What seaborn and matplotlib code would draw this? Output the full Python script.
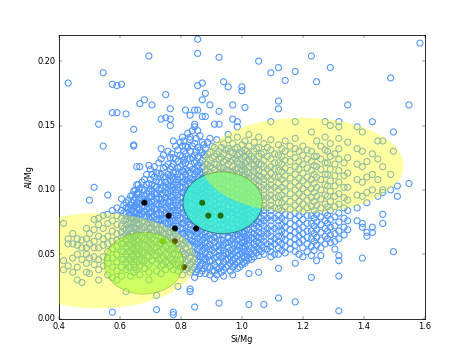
import numpy as np
import pandas as pd
import matplotlib
matplotlib.use('Agg')
import matplotlib.pyplot as plt
import seaborn as sns
from matplotlib.patches import Ellipse

# Si/Mg column positions and the Al/Mg values (x1000) read in each column
col_x = [0.415, 0.43, 0.445, 0.46, 0.475, 0.49, 0.50, 0.515, 0.53, 0.545, 0.56,
         0.575, 0.59, 0.605, 0.62, 0.635, 0.645, 0.655, 0.665, 0.68, 0.695,
         0.705, 0.72, 0.735, 0.75, 0.765, 0.775, 0.79, 0.805, 0.815, 0.83,
         0.845, 0.855, 0.87, 0.88, 0.895, 0.91, 0.925, 0.94, 0.955, 0.97,
         0.985, 1.0, 1.01, 1.023, 1.04, 1.055, 1.072, 1.095, 1.12, 1.142,
         1.175, 1.2, 1.228, 1.245, 1.273, 1.29, 1.318, 1.347, 1.378, 1.395,
         1.41, 1.428, 1.446, 1.462, 1.488, 1.497, 1.51, 1.548, 1.584]
col_y = [
    [74, 45, 38],
    [58, 41, 183, 62],
    [58, 47, 66, 36],
    [50, 40, 57, 62, 30],
    [61, 46, 28, 55],
    [55, 70, 62, 43, 36, 50],
    [92, 58, 35, 66, 47],
    [102, 60, 77, 48, 42, 69, 55],
    [78, 73, 55, 151, 64, 38, 46, 30],
    [80, 191, 134, 57, 48, 70, 62, 41],
    [96, 81, 64, 52, 43, 34, 74, 58, 47],
    [182, 160, 84, 76, 68, 60, 54, 47, 40, 32, 5],
    [181, 160, 86, 80, 73, 66, 61, 56, 50, 44, 37, 30],
    [182, 93, 84, 78, 72, 67, 63, 58, 52, 46, 40, 33],
    [159, 90, 86, 82, 77, 73, 69, 65, 61, 56, 50, 44, 38, 21],
    [95, 88, 85, 81, 78, 74, 70, 66, 62, 57, 52, 46, 40, 33],
    [147, 135, 134, 99, 92, 87, 83, 79, 75, 71, 67, 63, 59, 54, 48, 42, 36],
    [118, 104, 97, 90, 86, 82, 78, 74, 70, 66, 61, 56, 50, 44, 38],
    [167, 118, 101, 94, 89, 85, 81, 77, 73, 69, 64, 58, 52, 46, 40, 34],
    [170, 108, 100, 95, 91, 87, 83, 79, 75, 71, 67, 62, 57, 51, 45, 39],
    [204, 119, 105, 99, 94, 90, 86, 82, 78, 74, 70, 65, 60, 54, 48, 42, 36, 30],
    [166, 112, 104, 99, 95, 91, 87, 83, 79, 75, 71, 67, 62, 57, 51, 45],
    [113, 107, 102, 97, 93, 89, 85, 81, 77, 73, 69, 65, 60, 55, 49, 43, 37, 18, 7],
    [155, 132, 124, 112, 106, 101, 97, 93, 89, 85, 81, 77, 73, 69, 64, 59, 53, 47, 41, 35],
    [156, 174, 118, 110, 106, 102, 98, 94, 90, 86, 82, 78, 74, 70, 66, 61, 56, 50, 44, 38],
    [155, 150, 163, 125, 116, 111, 107, 103, 99, 95, 91, 87, 83, 79, 75, 71, 67, 63, 58, 53, 47, 41],
    [138, 125, 120, 113, 108, 104, 100, 96, 92, 88, 84, 80, 76, 72, 68, 64, 60, 55, 50, 44, 38, 5, 3],
    [131, 122, 117, 112, 108, 104, 100, 96, 92, 88, 84, 80, 76, 72, 68, 64, 59, 54, 49, 43, 37, 25],
    [141, 134, 126, 120, 115, 110, 106, 102, 98, 94, 90, 86, 82, 78, 74, 70, 66, 62, 57, 52, 46, 40, 34],
    [162, 134, 128, 121, 116, 112, 108, 104, 100, 96, 92, 88, 84, 80, 76, 72, 68, 64, 60, 55, 50, 44, 38],
    [158, 141, 139, 130, 124, 118, 113, 109, 105, 101, 97, 93, 89, 85, 81, 77, 73, 69, 65, 61, 57, 52, 47, 42, 36, 23, 21],
    [162, 151, 149, 136, 127, 121, 116, 112, 108, 104, 100, 96, 92, 88, 84, 80, 76, 72, 68, 64, 60, 56, 51, 46, 40, 32, 9],
    [206, 217, 181, 162, 146, 133, 125, 119, 114, 110, 106, 102, 98, 94, 90, 86, 82, 78, 74, 70, 66, 62, 58, 54, 49, 44, 38],
    [183, 170, 157, 137, 129, 123, 118, 113, 109, 105, 101, 97, 93, 89, 85, 81, 77, 73, 69, 65, 61, 57, 53, 48, 43, 37],
    [175, 157, 132, 126, 120, 115, 111, 107, 103, 99, 95, 91, 87, 83, 79, 75, 71, 67, 63, 59, 55, 51, 46, 41, 35],
    [166, 140, 129, 123, 118, 114, 110, 106, 102, 98, 94, 90, 86, 82, 78, 74, 70, 66, 62, 58, 54, 50, 45, 40, 34],
    [151, 133, 126, 120, 115, 111, 107, 103, 99, 95, 91, 87, 83, 79, 75, 71, 67, 63, 59, 55, 51, 47, 42, 37, 31],
    [203, 161, 151, 130, 124, 118, 113, 109, 105, 101, 97, 93, 89, 85, 81, 77, 73, 69, 65, 61, 57, 53, 49, 44, 39, 12],
    [184, 136, 128, 122, 117, 113, 109, 105, 101, 97, 93, 89, 85, 81, 77, 73, 69, 65, 61, 57, 53, 49, 44, 38, 33],
    [180, 143, 139, 132, 125, 120, 115, 111, 107, 103, 99, 95, 91, 87, 83, 79, 75, 71, 67, 63, 59, 55, 51, 46, 41],
    [155, 166, 136, 129, 123, 118, 114, 110, 106, 102, 98, 94, 90, 86, 82, 78, 74, 70, 66, 62, 58, 54, 50, 45, 40, 34],
    [153, 149, 141, 133, 127, 122, 117, 113, 109, 105, 101, 97, 93, 89, 85, 81, 77, 73, 69, 65, 61, 57, 53, 49, 44, 39],
    [177, 180, 135, 129, 124, 119, 115, 111, 107, 103, 99, 95, 91, 87, 83, 79, 75, 71, 67, 63, 59, 55, 51, 47, 42],
    [164, 138, 131, 126, 121, 116, 112, 108, 104, 100, 96, 92, 88, 84, 80, 76, 72, 68, 64, 60, 56, 52, 48, 43],
    [143, 134, 128, 123, 118, 113, 109, 105, 101, 97, 93, 89, 85, 81, 77, 73, 69, 65, 61, 57, 52, 47, 35, 11],
    [137, 130, 124, 119, 114, 110, 106, 102, 98, 94, 90, 86, 82, 78, 74, 70, 66, 62, 58, 53, 48],
    [200, 141, 133, 126, 120, 115, 111, 107, 103, 99, 95, 91, 87, 83, 79, 75, 71, 67, 63, 59, 54, 49, 36],
    [136, 129, 123, 118, 113, 108, 104, 100, 96, 92, 88, 84, 80, 76, 72, 68, 64, 60, 55, 50, 11],
    [191, 153, 139, 131, 124, 118, 113, 108, 104, 100, 96, 92, 88, 84, 80, 76, 72, 68, 64, 60, 56, 52, 48],
    [195, 169, 163, 135, 127, 121, 115, 110, 105, 100, 95, 90, 85, 80, 76, 72, 68, 64, 60, 55, 50, 39, 16],
    [185, 138, 130, 123, 117, 111, 105, 99, 93, 87, 81, 76, 71, 66, 61, 56, 51],
    [192, 153, 140, 132, 125, 118, 112, 106, 100, 94, 88, 82, 77, 72, 67, 62, 57, 52, 43, 13],
    [134, 127, 120, 113, 107, 101, 95, 89, 83, 77, 71, 66, 61, 55, 48],
    [204, 145, 130, 122, 115, 108, 101, 94, 87, 80, 74, 68, 62, 56, 49, 32],
    [184, 138, 126, 118, 110, 102, 95, 88, 81, 75, 69, 63, 57, 45],
    [153, 141, 131, 121, 112, 104, 96, 89, 82, 76, 70, 64, 58],
    [195, 150, 136, 126, 116, 107, 99, 91, 84, 77, 71, 65, 59],
    [153, 149, 140, 132, 124, 115, 106, 97, 89, 82, 75, 68, 62, 49, 45, 33, 6],
    [166, 137, 125, 113, 102, 92, 84, 76, 69],
    [149, 132, 120, 108, 96, 86, 76],
    [145, 130, 118, 106, 95, 74, 71, 47],
    [122, 110, 98, 90, 67, 64],
    [153, 128, 112, 100, 71, 67],
    [138, 124, 108, 95],
    [138, 118, 100, 98, 81, 74],
    [187, 112, 100],
    [145, 130, 52],
    [103, 95],
    [166, 105],
    [214],
]

# extra columns read between the ones above, where the cloud is packed
mid_x = [0.6125, 0.6275, 0.64, 0.65, 0.66, 0.6725, 0.6875, 0.70, 0.7125,
         0.7275, 0.7425, 0.7575, 0.77, 0.7825, 0.7975, 0.81, 0.8225, 0.8375,
         0.85, 0.8625, 0.875, 0.8875, 0.9025, 0.9175, 0.9325, 0.9475, 0.9625,
         0.9775, 0.9925, 1.005, 1.0165, 1.0315, 1.0475, 1.0635, 1.0835,
         1.1075, 1.131, 1.158, 1.187, 1.214, 1.237, 1.259, 1.281, 1.305, 1.335]
mid_y = [
    [88, 82, 76, 70, 64, 58, 52, 46],
    [92, 86, 80, 75, 70, 64, 58, 52, 46, 40],
    [96, 90, 84, 78, 72, 66, 60, 54, 48],
    [100, 94, 88, 82, 76, 70, 64, 58, 52, 46, 40],
    [104, 98, 92, 86, 80, 74, 68, 62, 56, 50],
    [106, 100, 93, 87, 81, 75, 69, 63, 57, 51, 45],
    [112, 104, 97, 91, 85, 79, 73, 67, 61, 55, 49, 43],
    [116, 108, 101, 95, 89, 83, 77, 71, 65, 59, 53],
    [118, 110, 103, 97, 91, 85, 79, 73, 67, 61, 55, 49],
    [121, 113, 106, 100, 94, 88, 82, 76, 70, 64, 58, 52, 46],
    [127, 117, 110, 103, 96, 90, 84, 78, 72, 66, 60, 54, 48, 42],
    [130, 120, 112, 104, 97, 91, 85, 79, 73, 67, 61, 55, 49, 43],
    [128, 118, 110, 102, 94, 86, 78, 70, 62, 54, 46],
    [134, 124, 114, 106, 98, 90, 82, 74, 66, 58, 50, 42],
    [137, 127, 118, 110, 102, 94, 86, 78, 70, 62, 54, 46, 40],
    [138, 130, 123, 114, 106, 98, 90, 82, 74, 66, 58, 50, 42],
    [144, 133, 124, 115, 107, 99, 91, 83, 75, 67, 59, 51, 45, 39],
    [146, 134, 125, 116, 108, 100, 92, 84, 76, 68, 60, 52, 44, 38],
    [140, 130, 122, 114, 106, 98, 90, 82, 74, 66, 58, 50, 42, 36],
    [142, 131, 121, 112, 104, 96, 88, 80, 72, 64, 56, 48, 41, 35],
    [135, 127, 118, 110, 102, 94, 86, 78, 70, 62, 54, 46, 39],
    [137, 128, 120, 112, 104, 96, 88, 80, 72, 64, 56, 48, 40],
    [134, 125, 117, 109, 101, 93, 85, 77, 69, 61, 53, 45, 37],
    [139, 128, 120, 112, 104, 96, 88, 80, 72, 64, 56, 48, 40, 34],
    [133, 125, 117, 109, 101, 93, 85, 77, 69, 61, 55, 47, 41, 36],
    [131, 123, 115, 107, 99, 91, 83, 75, 67, 59, 51, 46, 40],
    [130, 122, 114, 106, 98, 90, 82, 74, 67, 60, 53, 48, 43, 37],
    [132, 124, 116, 108, 100, 92, 84, 76, 70, 64, 58, 52, 47, 42],
    [128, 120, 112, 104, 96, 88, 80, 74, 68, 62, 56, 50, 45, 40],
    [126, 118, 110, 102, 94, 86, 78, 73, 66, 61, 54, 49, 44],
    [130, 122, 114, 106, 98, 90, 82, 74, 70, 62, 58, 50, 45],
    [126, 120, 111, 103, 95, 87, 79, 75, 67, 63, 55, 50, 46],
    [132, 122, 116, 108, 100, 92, 84, 76, 72, 64, 60, 56, 51],
    [128, 120, 110, 102, 94, 86, 78, 74, 66, 62, 57, 52],
    [133, 126, 116, 110, 102, 94, 86, 78, 70, 66, 58, 54],
    [128, 121, 116, 110, 102, 94, 86, 78, 70, 62, 58, 50],
    [132, 126, 120, 114, 108, 102, 96, 90, 84, 78, 73, 68, 63, 58, 53],
    [134, 128, 122, 115, 109, 103, 97, 91, 85, 80, 74, 69, 64, 59, 54],
    [130, 122, 116, 109, 103, 97, 91, 85, 80, 74, 69, 64, 59, 50],
    [131, 124, 117, 110, 104, 98, 92, 86, 80, 74, 68, 63, 58, 52],
    [126, 119, 112, 105, 98, 91, 84, 78, 72, 66, 60, 53],
    [134, 124, 116, 108, 100, 93, 86, 79, 73, 67, 61, 55, 49],
    [130, 121, 112, 103, 95, 87, 80, 74, 68, 62],
    [128, 120, 111, 103, 95, 87, 79, 72, 66, 60, 54],
    [121, 111, 102, 94, 86, 78, 71, 65],
]

# component means (black and green dots)
black_x = [0.68, 0.76, 0.78, 0.85, 0.78, 0.81]
black_y = [0.090, 0.080, 0.070, 0.070, 0.060, 0.040]
green_x = [0.74, 0.87, 0.89, 0.93]
green_y = [0.060, 0.090, 0.080, 0.080]

all_x = col_x + mid_x
all_y = col_y + mid_y
xs = np.repeat(all_x, [len(c) for c in all_y])
ys = np.concatenate([np.array(c, dtype=float) for c in all_y]) / 1000.0
df = pd.DataFrame({'Si/Mg': xs, 'Al/Mg': ys})

plt.style.use('classic')
fig, ax = plt.subplots(figsize=(8, 6), dpi=59)
fig.patch.set_facecolor('white')

sns.scatterplot(data=df, x='Si/Mg', y='Al/Mg', ax=ax, s=55, marker='o',
                facecolor='none', edgecolor='#4f96ff', linewidth=1.3,
                legend=False, zorder=1)

ax.add_patch(Ellipse((0.937, 0.090), 0.26, 0.048, facecolor='#3cf2cc',
                     edgecolor='#226655', alpha=0.82, lw=1.0, zorder=2))

sns.scatterplot(x=black_x, y=black_y, ax=ax, s=55, color='black',
                edgecolor='none', legend=False, zorder=3)
sns.scatterplot(x=green_x, y=green_y, ax=ax, s=55, color='#1d7010',
                edgecolor='none', legend=False, zorder=3)

ax.add_patch(Ellipse((0.678, 0.043), 0.26, 0.048, facecolor='#55ff22',
                     edgecolor='#226622', alpha=0.45, lw=1.0, zorder=4))
ax.add_patch(Ellipse((0.53, 0.045), 0.64, 0.074, facecolor='yellow',
                     edgecolor='none', alpha=0.37, zorder=5))
ax.add_patch(Ellipse((1.2, 0.119), 0.66, 0.074, facecolor='yellow',
                     edgecolor='none', alpha=0.37, zorder=5))

ax.set_xlim(0.4, 1.6)
ax.set_ylim(0.0, 0.22)
ax.set_xticks([0.4, 0.6, 0.8, 1.0, 1.2, 1.4, 1.6])
ax.set_yticks([0.0, 0.05, 0.10, 0.15, 0.20])
ax.set_yticklabels(['0.00', '0.05', '0.10', '0.15', '0.20'])
ax.tick_params(labelsize=10)
ax.set_xlabel('Si/Mg', fontsize=10)
ax.set_ylabel('Al/Mg', fontsize=10)

fig.subplots_adjust(left=0.125, right=0.9, bottom=0.1, top=0.9)
fig.savefig('out.png', dpi=59, facecolor='white')
